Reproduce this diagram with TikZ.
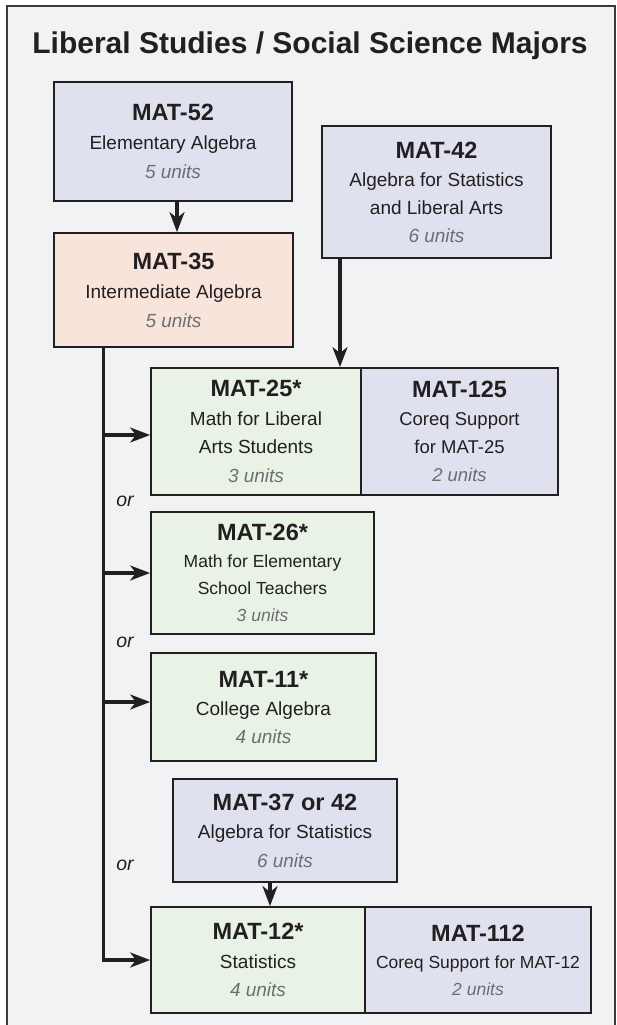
\documentclass[tikz,border=0pt]{standalone}
\usepackage{fontspec}
\setmainfont{Liberation Sans}
\usetikzlibrary{arrows.meta}
\definecolor{framebg}{HTML}{F1F2F4}
\definecolor{framegray}{HTML}{3A3A3C}
\definecolor{bluefill}{HTML}{DFE1EE}
\definecolor{peachfill}{HTML}{F9E4DC}
\definecolor{greenfill}{HTML}{E8F3E6}
\definecolor{ink}{HTML}{231F20}
\definecolor{unitgray}{HTML}{6D6E71}
\newcommand\crshd[1]{{\fontsize{23.5}{29}\selectfont\bfseries #1}}
\newcommand\crsun[1]{{\color{unitgray}\itshape #1}}
\begin{document}
\begin{tikzpicture}[x=1pt,y=-1pt,
  box/.style={draw=ink, line width=1.8pt, inner sep=0pt, align=center, text=ink,
    font=\fontsize{19}{29}\selectfont},
  bluebox/.style={box, fill=bluefill},
  peachbox/.style={box, fill=peachfill},
  greenbox/.style={box, fill=greenfill},
  arr/.style={draw=ink, line width=3.2pt, -{Stealth[length=20pt,width=15pt,inset=6pt]}},
  orlabel/.style={text=ink, font=\fontsize{19.5}{24}\selectfont\itshape, inner sep=0pt},
]
\useasboundingbox (0,0) rectangle (616,1025);
\fill[white] (0,0) rectangle (616,1025);
\fill[framebg] (7,6) rectangle (615,1025);
\draw[framegray, line width=2.2pt] (7,1026) -- (7,6) -- (615,6) -- (615,1026);

\node[anchor=base, font=\fontsize{30}{36}\selectfont\bfseries, text=ink] (title) at (310,53)
  {Liberal Studies / Social Science Majors};

\node[bluebox, minimum width=238, minimum height=119] (m52) at (173,141.5)
  {\crshd{MAT-52}\\Elementary Algebra\\\crsun{5 units}};
\node[bluebox, minimum width=229, minimum height=132, font=\fontsize{19}{28}\selectfont] (m42) at (436.5,192)
  {\crshd{MAT-42}\\Algebra for Statistics\\and Liberal Arts\\\crsun{6 units}};
\node[peachbox, minimum width=239, minimum height=114] (m35) at (173.5,290)
  {\crshd{MAT-35}\\Intermediate Algebra\\\crsun{5 units}};
\node[greenbox, minimum width=210, minimum height=127, font=\fontsize{19}{28.5}\selectfont] (m25) at (256,431.5)
  {\crshd{MAT-25*}\\Math for Liberal\\Arts Students\\\crsun{3 units}};
\node[bluebox, minimum width=197, minimum height=127, font=\fontsize{18.5}{28}\selectfont] (m125) at (459.5,431.5)
  {\crshd{MAT-125}\\Coreq Support\\for MAT-25\\\crsun{2 units}};
\node[greenbox, minimum width=223, minimum height=122, font=\fontsize{17.5}{27}\selectfont] (m26) at (262.5,573)
  {\crshd{MAT-26*}\\Math for Elementary\\School Teachers\\\crsun{3 units}};
\node[greenbox, minimum width=225, minimum height=108, font=\fontsize{19}{28}\selectfont] (m11) at (263.5,707)
  {\crshd{MAT-11*}\\College Algebra\\\crsun{4 units}};
\node[bluebox, minimum width=224, minimum height=103, font=\fontsize{19}{28.5}\selectfont] (m37) at (285,830.5)
  {\crshd{MAT-37 or 42}\\Algebra for Statistics\\\crsun{6 units}};
\node[greenbox, minimum width=214, minimum height=106, font=\fontsize{19}{28.5}\selectfont] (m12) at (258,960)
  {\crshd{MAT-12*}\\Statistics\\\crsun{4 units}};
\node[bluebox, minimum width=226, minimum height=106, font=\fontsize{17.5}{27}\selectfont] (m112) at (478,960)
  {\crshd{MAT-112}\\Coreq Support for MAT-12\\\crsun{2 units}};

\coordinate (trunk) at ([xshift=50pt]m35.south west);

\draw[arr] ([xshift=4pt]m52.south) -- ([xshift=4pt]m52.south |- m35.north);
\draw[arr] ([xshift=-96.5pt]m42.south) -- ([xshift=-96.5pt]m42.south |- m25.north);
\draw[arr] (trunk) |- (m12.west);
\draw[arr] ([yshift=-3.5pt]m25.west -| trunk) -- ([yshift=-3.5pt]m25.west);
\draw[arr] (m26.west -| trunk) -- (m26.west);
\draw[arr] ([yshift=5pt]m11.west -| trunk) -- ([yshift=5pt]m11.west);
\draw[arr] ([xshift=-15pt]m37.south) -- ([xshift=-15pt]m37.south |- m12.north);

\node[orlabel] (or1) at (125,501) {or};
\node[orlabel] (or2) at (125,642) {or};
\node[orlabel] (or3) at (125,865) {or};
\end{tikzpicture}
\end{document}
